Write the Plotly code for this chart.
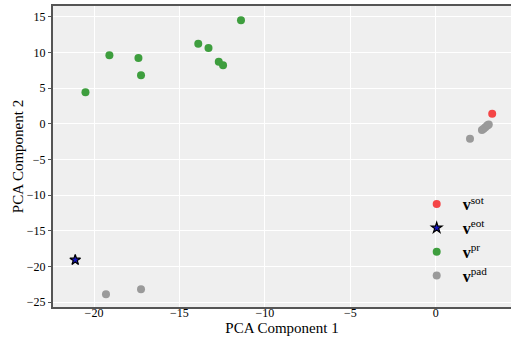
import plotly.graph_objects as go

sot_x = [3.3]
sot_y = [1.4]
eot_x = [-21.1]
eot_y = [-19.1]
pr_x = [-20.5, -19.1, -17.4, -17.25, -13.9, -13.3, -12.7, -12.45, -11.4]
pr_y = [4.4, 9.6, 9.2, 6.8, 11.2, 10.6, 8.7, 8.2, 14.5]
pad_x = [2.0, 2.7, 2.8, 2.9, 3.0, 3.05, 3.1, -19.3, -17.25]
pad_y = [-2.1, -0.9, -0.7, -0.5, -0.3, -0.2, -0.1, -23.9, -23.2]

FONT = "Liberation Serif"
fig = go.Figure()
fig.add_trace(go.Scatter(x=sot_x, y=sot_y, mode="markers", name="<b>v</b><sup>sot</sup>",
                         marker=dict(color="#F44546", size=8)))
fig.add_trace(go.Scatter(x=eot_x, y=eot_y, mode="markers", name="<b>v</b><sup>eot</sup>",
                         marker=dict(color="#1515C0", size=8, symbol="star",
                                     line=dict(color="black", width=1.2))))
fig.add_trace(go.Scatter(x=pr_x, y=pr_y, mode="markers", name="<b>v</b><sup>pr</sup>",
                         marker=dict(color="#3E9E3E", size=8)))
fig.add_trace(go.Scatter(x=pad_x, y=pad_y, mode="markers", name="<b>v</b><sup>pad</sup>",
                         marker=dict(color="#9A9A9A", size=8)))

tickfont = dict(family=FONT, size=12, color="black")
fig.update_layout(
    width=511, height=337,
    margin=dict(l=53, r=0, t=6, b=30),
    paper_bgcolor="white", plot_bgcolor="#EFEFEF",
    font=dict(family=FONT, size=12, color="black"),
    legend=dict(x=0.781, y=0.398, xanchor="left", yanchor="top",
                bgcolor="rgba(0,0,0,0)", font=dict(size=16, family=FONT),
                itemsizing="trace", itemwidth=42, tracegroupgap=0),
    showlegend=True,
)
fig.update_xaxes(range=[-22.4, 4.4], tickvals=[-20, -15, -10, -5, 0],
                 tickfont=tickfont, ticklabelstandoff=-6,
                 gridcolor="white", gridwidth=1, zeroline=False, automargin=False,
                 showline=True, linecolor="#555555", linewidth=2, mirror=True,
                 ticks="",
                 title=dict(text="PCA Component 1", font=dict(size=15, family=FONT), standoff=0))
fig.update_yaxes(range=[-25.7, 16.5], tickvals=[-25, -20, -15, -10, -5, 0, 5, 10, 15],
                 tickfont=tickfont,
                 gridcolor="white", gridwidth=1, zeroline=False, automargin=False,
                 showline=True, linecolor="#555555", linewidth=2,
                 ticks="outside", ticklen=3, tickcolor="#555555",
                 title=dict(text="PCA Component 2", font=dict(size=15, family=FONT), standoff=0))
fig.write_html("out.html", config={"displayModeBar": False},
               post_script="document.body.style.margin='0';")
